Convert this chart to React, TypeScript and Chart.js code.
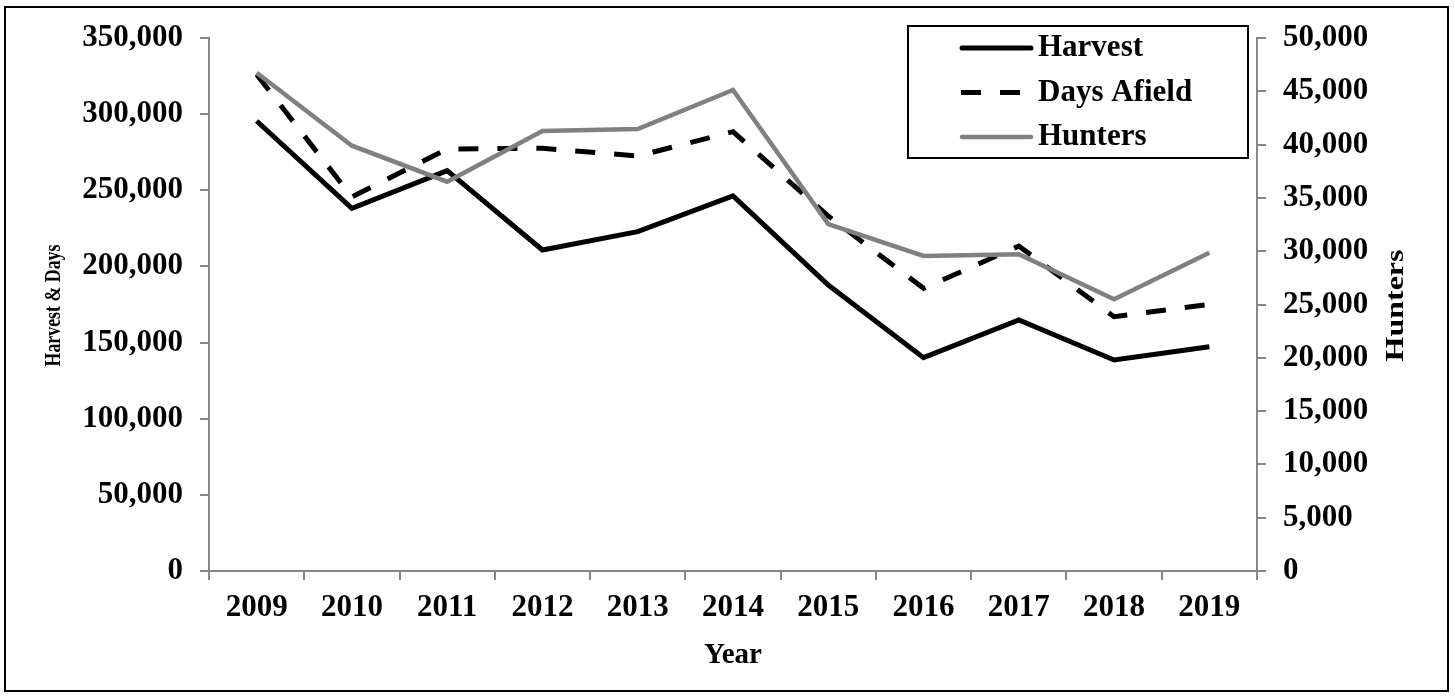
import React, { useEffect, useRef } from "react";
import { Chart, registerables } from "chart.js";

Chart.register(...registerables);

const years = ["2009", "2010", "2011", "2012", "2013", "2014", "2015", "2016", "2017", "2018", "2019"];
const harvest = [295500, 238200, 262900, 210800, 222800, 246300, 187800, 140100, 164800, 138600, 147300];
const daysAfield = [326000, 245600, 277100, 277600, 272500, 288500, 233100, 185600, 213400, 167000, 175100];
const hunters = [46740, 39900, 36520, 41270, 41460, 45120, 32550, 29550, 29710, 25490, 29860];

const leftMax = 350000;
const leftStep = 50000;
const rightMax = 50000;
const rightStep = 5000;

const xTitle = "Year";
const leftTitle = "Harvest & Days";
const rightTitle = "Hunters";

const FONT = '"Liberation Serif", "Times New Roman", serif';
const AXIS_GRAY = "#868686";

const fmt = (v: number) => Number(v).toLocaleString("en-US");

function drawRotatedTitle(ctx: any, text: string, cx: number, cy: number, size: number, targetLen: number) {
  ctx.save();
  ctx.translate(cx, cy);
  ctx.rotate(-Math.PI / 2);
  ctx.font = `bold ${size}px ${FONT}`;
  const w = ctx.measureText(text).width;
  ctx.scale(targetLen / w, 1);
  ctx.textAlign = "center";
  ctx.textBaseline = "middle";
  ctx.fillStyle = "#000";
  ctx.fillText(text, 0, 0);
  ctx.restore();
}

const boxLegend = {
  id: "boxLegend",
  afterDraw(chart: any) {
    const ctx = chart.ctx;
    ctx.save();
    const bx = 908, by = 26, bw = 340, bh = 132;
    ctx.fillStyle = "#fff";
    ctx.fillRect(bx, by, bw, bh);
    ctx.strokeStyle = "#000";
    ctx.lineWidth = 2;
    ctx.setLineDash([]);
    ctx.strokeRect(bx, by, bw, bh);
    chart.data.datasets.forEach((ds: any, i: number) => {
      const y = 48 + i * 44.5;
      ctx.beginPath();
      ctx.setLineDash(ds.borderDash || []);
      ctx.lineWidth = ds.borderWidth;
      ctx.strokeStyle = ds.borderColor;
      ctx.lineCap = ds.borderDash ? "butt" : "round";
      ctx.moveTo(ds.borderDash ? 961 : 962, y);
      ctx.lineTo(1031, y);
      ctx.stroke();
      ctx.setLineDash([]);
      ctx.fillStyle = "#000";
      ctx.font = `bold 31px ${FONT}`;
      ctx.textAlign = "left";
      ctx.textBaseline = "middle";
      ctx.fillText(ds.label, 1038, y);
    });
    ctx.restore();
    const area = chart.chartArea;
    const midY = (area.top + area.bottom) / 2;
    drawRotatedTitle(ctx, leftTitle, 54, midY + 1, 23, 122);
    drawRotatedTitle(ctx, rightTitle, 1396, midY + 1, 26, 112);
  },
};

export default function App() {
  const ref = useRef<HTMLCanvasElement>(null);

  useEffect(() => {
    if (!ref.current) return;
    const tickFont = { family: FONT, size: 31, weight: "bold" as const };
    const chart = new Chart(ref.current, {
      type: "line",
      data: {
        labels: years,
        datasets: [
          {
            label: "Harvest",
            data: harvest,
            yAxisID: "y",
            borderColor: "#000",
            backgroundColor: "#000",
            borderWidth: 5,
            pointRadius: 0,
            tension: 0,
            order: 2,
          },
          {
            label: "Days Afield",
            data: daysAfield,
            yAxisID: "y",
            borderColor: "#000",
            backgroundColor: "#000",
            borderWidth: 5,
            borderDash: [20, 19],
            pointRadius: 0,
            tension: 0,
            order: 1,
          },
          {
            label: "Hunters",
            data: hunters,
            yAxisID: "y1",
            borderColor: "#808080",
            backgroundColor: "#808080",
            borderWidth: 4.5,
            pointRadius: 0,
            tension: 0,
            order: 0,
          },
        ],
      },
      options: {
        responsive: false,
        animation: false,
        layout: { padding: { top: 38, left: 0, right: 0, bottom: 0 } },
        plugins: {
          legend: { display: false },
          tooltip: { enabled: false },
        },
        scales: {
          x: {
            type: "category",
            offset: true,
            grid: {
              offset: true,
              drawOnChartArea: false,
              drawTicks: true,
              tickLength: 9,
              color: AXIS_GRAY,
              lineWidth: 2,
            },
            border: { color: AXIS_GRAY, width: 2 },
            ticks: { color: "#000", font: tickFont, padding: 9, maxRotation: 0 },
            title: {
              display: true,
              text: xTitle,
              color: "#000",
              font: { family: FONT, size: 29, weight: "bold" },
              padding: { top: 0, bottom: 27 },
            },
            afterFit: (s: any) => {
              s.height = 129;
            },
          },
          y: {
            position: "left",
            min: 0,
            max: leftMax,
            grid: {
              drawOnChartArea: false,
              drawTicks: true,
              tickLength: 9,
              color: AXIS_GRAY,
              lineWidth: 2,
            },
            border: { color: AXIS_GRAY, width: 2 },
            ticks: {
              stepSize: leftStep,
              color: "#000",
              font: tickFont,
              padding: 17,
              callback: (v: any) => fmt(v),
            },
            afterFit: (s: any) => {
              s.width = 209;
            },
          },
          y1: {
            position: "right",
            min: 0,
            max: rightMax,
            grid: {
              drawOnChartArea: false,
              drawTicks: true,
              tickLength: 9,
              color: AXIS_GRAY,
              lineWidth: 2,
            },
            border: { color: AXIS_GRAY, width: 2 },
            ticks: {
              stepSize: rightStep,
              color: "#000",
              font: tickFont,
              padding: 17,
              callback: (v: any) => fmt(v),
            },
            afterFit: (s: any) => {
              s.width = 198;
            },
          },
        },
      },
      plugins: [boxLegend],
    });
    return () => chart.destroy();
  }, []);

  return (
    <div style={{ position: "fixed", left: 0, top: 0, width: 1455, height: 700, background: "#fff" }}>
      <canvas ref={ref} width={1455} height={700} style={{ position: "absolute", left: 0, top: 0, width: 1455, height: 700 }} />
      <div
        style={{
          position: "absolute",
          left: 4,
          top: 6,
          width: 1445,
          height: 686,
          border: "2px solid #000",
          boxSizing: "border-box",
          pointerEvents: "none",
        }}
      />
    </div>
  );
}
